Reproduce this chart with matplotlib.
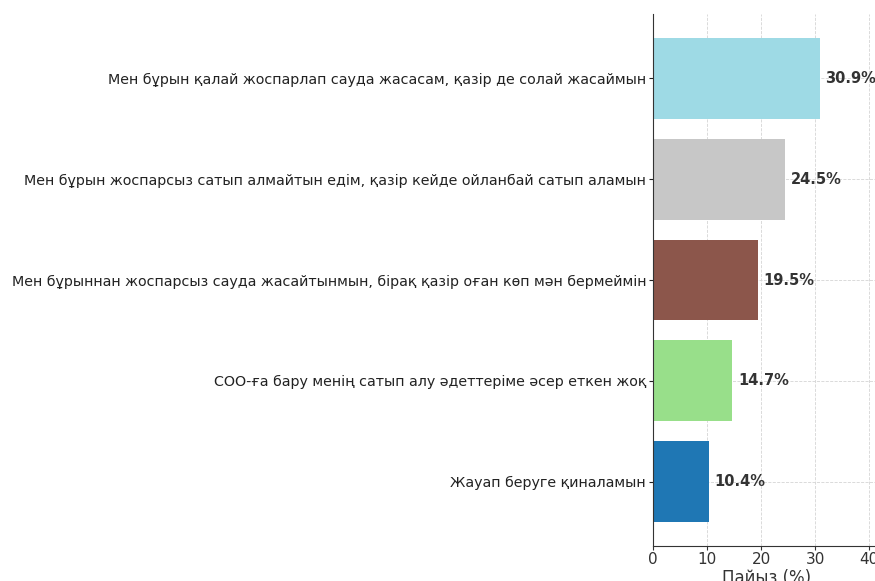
import matplotlib.pyplot as plt

# Деректер
categories = [
    "Жауап беруге қиналамын",
    "СОО-ға бару менің сатып алу әдеттеріме әсер еткен жоқ",
    "Мен бұрыннан жоспарсыз сауда жасайтынмын, бірақ қазір оған көп мән бермеймін",
    "Мен бұрын жоспарсыз сатып алмайтын едім, қазір кейде ойланбай сатып аламын",
    "Мен бұрын қалай жоспарлап сауда жасасам, қазір де солай жасаймын",
]
values = [10.4, 14.7, 19.5, 24.5, 30.9]
colors = ["#1f77b4", "#98df8a", "#8c564b", "#c7c7c7", "#9edae5"]

fig = plt.figure(figsize=(8.75, 5.81), dpi=100)
# осьтер оң жақта кесілген (түпнұсқадағыдай)
ax = fig.add_axes([653 / 875, 35 / 581, 227 / 875, 532 / 581])

bars = ax.barh(categories, values, color=colors, height=0.8)

for bar, v in zip(bars, values):
    ax.text(v + 1, bar.get_y() + bar.get_height() / 2, f"{v}%",
            va="center", ha="left", fontsize=10.5, fontweight="bold", color="#333333")

ax.set_xlim(0, 42)
ax.set_xticks([0, 10, 20, 30, 40])
ax.set_xlabel("Пайыз (%)", fontsize=12, color="#333333", labelpad=1)
ax.tick_params(axis="x", labelsize=11, colors="#333333", length=3, pad=1.5)
ax.tick_params(axis="y", labelsize=10.3, colors="#222222", length=3, pad=2)

ax.grid(True, linestyle="--", linewidth=0.6, color="#d5d5d5")
ax.set_axisbelow(True)
for s in ["top", "right"]:
    ax.spines[s].set_visible(False)
ax.spines["left"].set_color("#333333")
ax.spines["bottom"].set_color("#333333")

fig.savefig("out.png", dpi=100)
